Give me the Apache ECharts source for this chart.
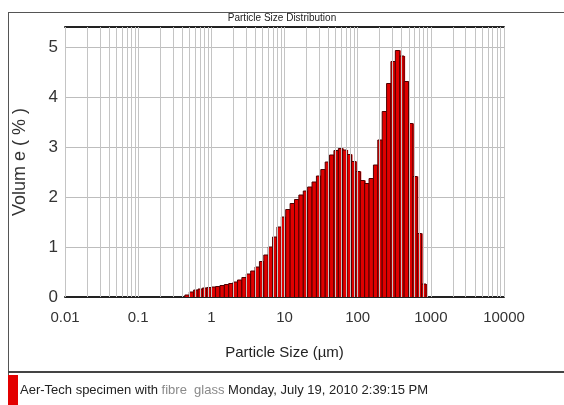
<!DOCTYPE html>
<html>
<head>
<meta charset="utf-8">
<script src="https://cdn.jsdelivr.net/npm/echarts@6/dist/echarts.min.js"></script>
<style>
html,body{margin:0;padding:0;background:#fff;}
#c{width:564px;height:405px;}
</style>
</head>
<body>
<div id="c"></div>
<script>
// ---- data ----
const sizeRangeMin = 0.435;   // lower edge of first size class (µm)
const sizeRangeMax = 860;     // upper edge of last size class (µm)
const volumePct = [
  0.04, 0.10, 0.14, 0.16, 0.18, 0.19, 0.20, 0.21, 0.23, 0.25,
  0.27, 0.30, 0.34, 0.39, 0.46, 0.52, 0.60, 0.71, 0.84, 1.00,
  1.20, 1.40, 1.60, 1.75, 1.87, 1.95, 2.04, 2.12, 2.20, 2.30,
  2.42, 2.55, 2.70, 2.84, 2.93, 2.97, 2.94, 2.85, 2.71, 2.51,
  2.33, 2.27, 2.37, 2.64, 3.14, 3.71, 4.27, 4.71, 4.93, 4.82,
  4.31, 3.47, 2.41, 1.27, 0.26
];
const xTickLabels = ['0.01', '0.1', '1', '10', '100', '1000', '10000'];
const yTickLabels = ['0', '1', '2', '3', '4', '5'];
const decades = [0.01, 0.1, 1, 10, 100, 1000];
const seriesName = 'Aer-Tech specimen with fibre glass Monday, July 19, 2010 2:39:15 PM';

// size-class edges (geometric classes of the analyser)
const n = volumePct.length;
const ratio = Math.pow(sizeRangeMax / sizeRangeMin, 1 / n);
const lowerEdges = volumePct.map((v, i) => sizeRangeMin * Math.pow(ratio, i));
const upperEdges = volumePct.map((v, i) => sizeRangeMin * Math.pow(ratio, i + 1));
const barData = volumePct.map((v, i) => [lowerEdges[i], upperEdges[i], v]);

// vertical grid lines at 1..9 x each decade
const gridX = [];
decades.forEach(d => { for (let m = 1; m <= 9; m++) gridX.push(+(d * m).toPrecision(3)); });
gridX.push(10000);

const font = '"Liberation Sans", Arial, sans-serif';

const chart = echarts.init(document.getElementById('c'), null, {renderer: 'canvas'});
chart.setOption({
  animation: false,
  backgroundColor: '#fff',
  title: {
    text: 'Particle Size Distribution',
    left: 'center',
    top: 13,
    padding: 0,
    textStyle: {fontFamily: font, fontSize: 10, fontWeight: 'normal', color: '#222'}
  },
  grid: {left: 65, right: 60, top: 27, bottom: 108},
  legend: {
    show: true,
    left: 8,
    top: 375,
    padding: 0,
    itemWidth: 10,
    itemHeight: 30,
    itemGap: 4,
    icon: 'rect',
    data: [seriesName],
    formatter: () => '{a|Aer-Tech specimen with }{b|fibre  glass}{a| Monday, July 19, 2010 2:39:15 PM}',
    textStyle: {
      padding: [0, 0, 0, -3],
      rich: {
        a: {fontFamily: font, fontSize: 13, color: '#222'},
        b: {fontFamily: font, fontSize: 13, color: '#8a8a8a'}
      }
    }
  },
  xAxis: [{
    type: 'log',
    logBase: 10,
    min: 0.01,
    max: 10000,
    position: 'bottom',
    name: 'Particle Size (µm)',
    nameLocation: 'middle',
    nameGap: 48,
    nameTextStyle: {fontFamily: font, fontSize: 15, color: '#222'},
    axisLine: {show: true, onZero: false, lineStyle: {color: '#222', width: 2}},
    axisTick: {show: false},
    splitLine: {show: false},
    axisLabel: {
      fontFamily: font, fontSize: 15, color: '#333', margin: 13,
      formatter: v => {
        const i = Math.round(Math.log10(v)) + 2;
        return xTickLabels[i] !== undefined ? xTickLabels[i] : '';
      }
    }
  }, {
    type: 'log',
    logBase: 10,
    min: 0.01,
    max: 10000,
    position: 'top',
    axisLine: {show: true, onZero: false, lineStyle: {color: '#222', width: 2}},
    axisTick: {show: false},
    axisLabel: {show: false},
    splitLine: {show: false}
  }],
  yAxis: {
    type: 'value',
    min: 0,
    max: 5.4,
    interval: 1,
    name: 'Volum e ( % )',
    nameLocation: 'middle',
    nameGap: 36,
    nameRotate: 90,
    nameTextStyle: {fontFamily: font, fontSize: 18, color: '#333'},
    axisLine: {show: false},
    axisTick: {show: false},
    axisLabel: {
      fontFamily: font, fontSize: 17, color: '#333', margin: 7,
      showMaxLabel: false,
      formatter: v => { const i = Math.round(v); return Math.abs(v - i) < 1e-6 && yTickLabels[i] !== undefined ? yTickLabels[i] : ''; }
    },
    splitLine: {show: true, lineStyle: {color: '#bdbdbd', width: 1}}
  },
  series: [{
    name: 'grid',
    type: 'line',
    data: [],
    z: 1,
    silent: true,
    markLine: {
      silent: true,
      symbol: ['none', 'none'],
      label: {show: false},
      lineStyle: {color: '#c4c4c4', width: 1, type: 'solid'},
      data: gridX.map(v => ({xAxis: v}))
    }
  }, {
    name: seriesName,
    type: 'custom',
    z: 3,
    silent: true,
    itemStyle: {color: '#e30000'},
    encode: {x: [0, 1], y: 2},
    data: barData,
    renderItem: (params, api) => {
      const i = params.dataIndex;
      const xa = api.coord([lowerEdges[i], volumePct[i]]);
      const xb = api.coord([upperEdges[i], 0]);
      const x0 = xa[0], x1 = xb[0], yt = xa[1], yb = xb[1];
      return {
        type: 'group',
        children: [{
          type: 'rect',
          shape: {x: x0, y: yt, width: x1 - x0 + 1, height: yb - yt},
          style: {fill: '#e00000', stroke: null, lineWidth: 0}
        }, {
          type: 'polyline',
          shape: {points: [[x0, yb], [x0, yt], [x1, yt], [x1, yb]]},
          style: {stroke: '#500000', lineWidth: 1, fill: null}
        }]
      };
    }
  }],
  graphic: [
    {type: 'line', silent: true, shape: {x1: 8.5, y1: 12.5, x2: 564, y2: 12.5}, style: {stroke: '#555', lineWidth: 1}},
    {type: 'line', silent: true, shape: {x1: 8.5, y1: 12, x2: 8.5, y2: 405}, style: {stroke: '#555', lineWidth: 1}},
    {type: 'line', silent: true, shape: {x1: 8, y1: 372, x2: 564, y2: 372}, style: {stroke: '#444', lineWidth: 2}}
  ]
});
</script>
</body>
</html>
